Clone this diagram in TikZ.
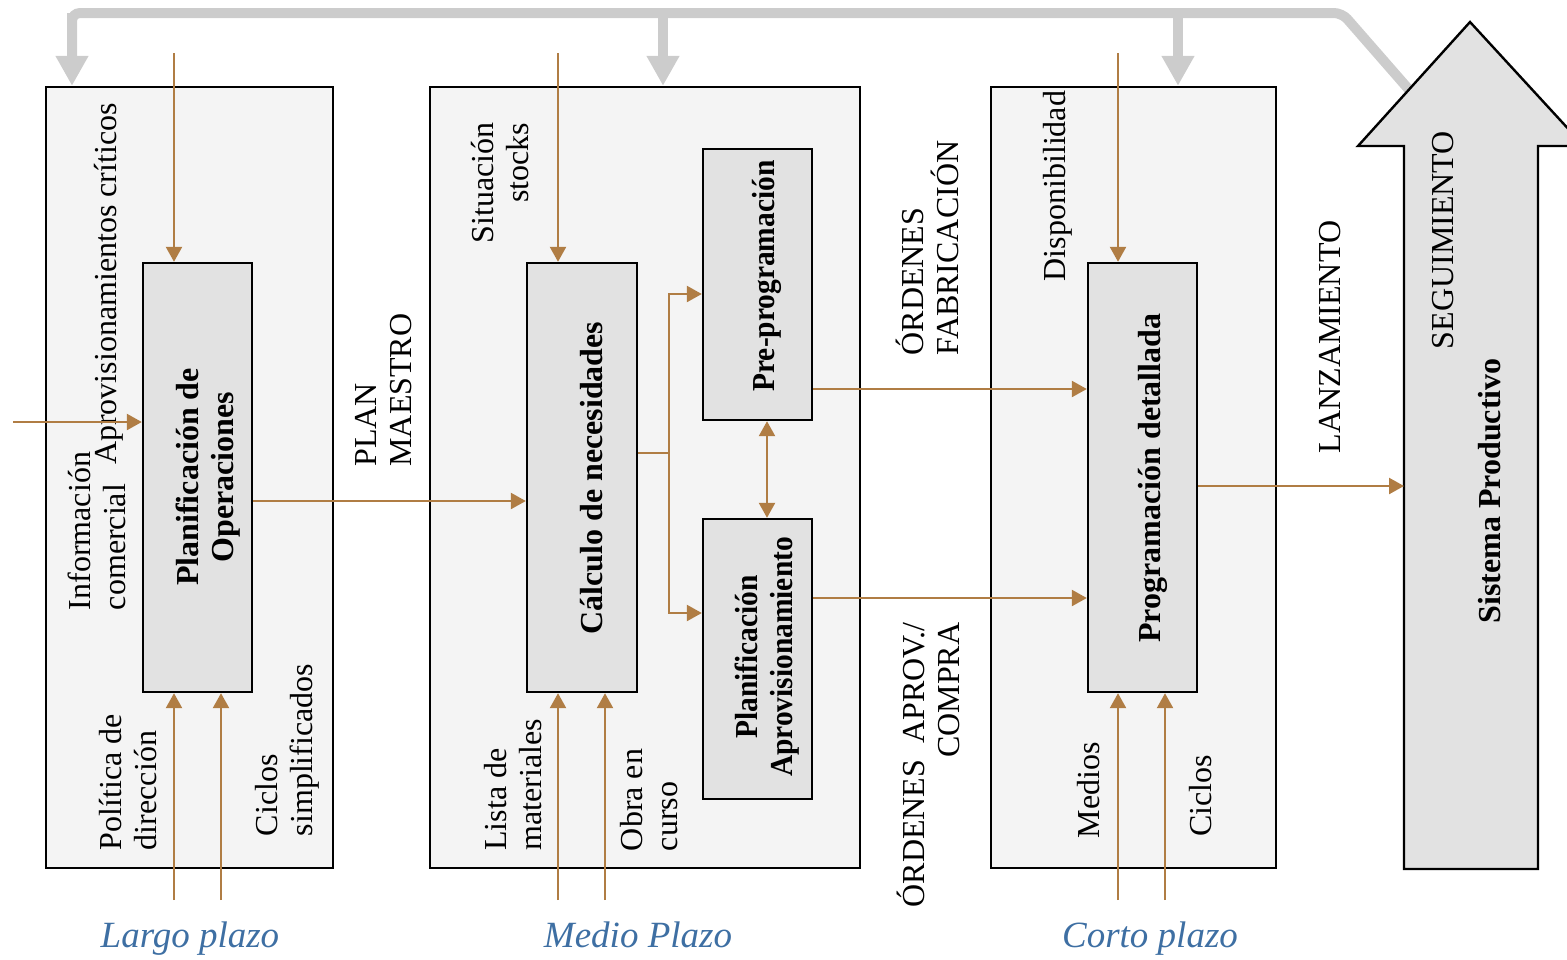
\documentclass[tikz,border=0pt]{standalone}
\usepackage{fontspec}
\setmainfont{Liberation Serif}
\newfontfamily\condserif[FakeStretch=0.92]{Liberation Serif}
\usetikzlibrary{arrows.meta,fit}
\definecolor{brn}{HTML}{B07D44}
\definecolor{gry}{HTML}{CCCCCC}
\definecolor{outerfill}{HTML}{F4F4F4}
\definecolor{innerfill}{HTML}{E2E2E2}
\definecolor{blu}{HTML}{3E6FA3}
\tikzset{
  outerbox/.style={draw, line width=1.2pt, fill=outerfill, inner sep=0pt},
  innerbox/.style={draw, line width=1.2pt, fill=innerfill, inner sep=0pt},
  lbl/.style={rotate=90, inner sep=0pt, font=\fontsize{16}{17.5}\selectfont},
  blbl/.style={lbl, font=\fontsize{16}{17.5}\selectfont\bfseries},
  cblbl/.style={lbl, font=\condserif\fontsize{16}{17.5}\selectfont\bfseries},
  plazo/.style={inner sep=0pt, anchor=base, text=blu, font=\fontsize{18.5}{20}\selectfont\itshape},
  barrow/.style={draw=brn, line width=1.2pt, -{Triangle[width=8pt,length=7.5pt]}},
  bdarrow/.style={draw=brn, line width=1.2pt, {Triangle[width=8pt,length=7.5pt]}-{Triangle[width=8pt,length=7.5pt]}},
  garrow/.style={draw=gry, line width=5pt, -{Triangle[width=15.5pt,length=15pt]}},
}
\begin{document}
\begin{tikzpicture}[x=0.5pt,y=-0.5pt]
\useasboundingbox (0,0) rectangle (1567,959);
% outer boxes
\node[outerbox, fit={(46,87) (333,868)}] (L) {};
\node[outerbox, fit={(430,87) (860,868)}] (M) {};
\node[outerbox, fit={(991,87) (1276,868)}] (C) {};
% inner boxes
\node[innerbox, fit={(143,263) (252,692)}] (P1) {};
\node[innerbox, fit={(527,263) (637,692)}] (Calc) {};
\node[innerbox, fit={(703,149) (812,420)}] (Pre) {};
\node[innerbox, fit={(703,519) (812,799)}] (PlanA) {};
\node[innerbox, fit={(1088,263) (1197,692)}] (Prog) {};
% gray feedback line
\coordinate (g0) at (72,13);
\coordinate (g1) at (1342,13);
\coordinate (g2) at (1418,100);
\coordinate (gm) at (663,13);
\coordinate (gc) at (1178,13);
\draw[gry, line width=5pt, rounded corners=4pt] (g0 |- L.north) ++(0,-20) -- (g0) -- (g1) -- (g2);
\draw[garrow] (g0) -- (g0 |- L.north);
\draw[garrow] (gm) -- (gm |- M.north);
\draw[garrow] (gc) -- (gc |- C.north);
% big arrow
\draw[line width=1.2pt, fill=innerfill] (1404,869) -- (1404,146) -- (1358,146) -- (1470,22) -- (1584,146) -- (1538,146) -- (1538,869) -- cycle;
\coordinate (SP) at (1404,486);
% inner labels
\node[blbl, align=center] at (208,477) (tP1) {Planificación de\\Operaciones};
\node[blbl] at (592,478) (tCalc) {Cálculo de necesidades};
\node[cblbl] at (767,276) (tPre) {Pre-programación};
\node[cblbl, align=center] at (767,657) (tPlanA) {Planificación\\Aprovisionamiento};
\node[blbl] at (1153,478) (tProg) {Programación detallada};
\node[blbl] at (1490,491) (tSP) {Sistema Productivo};
% other labels
\node[lbl, align=left] at (97,531) (l1) {Información\\comercial};
\node[lbl] at (109,284) (l2) {Aprovisionamientos críticos};
\node[lbl, align=left] at (128,782) (l3) {Política de\\dirección};
\node[lbl, align=left] at (287,750) (l4) {Ciclos\\simplificados};
\node[lbl, align=left] at (384,390) (l5) {PLAN\\MAESTRO};
\node[lbl, align=right] at (500,183) (l6) {Situación\\stocks};
\node[lbl, align=left] at (513,785) (l7) {Lista de\\materiales};
\node[lbl, align=left] at (649,800) (l8) {Obra en\\curso};
\node[lbl, align=left] at (927,248) (l9) {ÓRDENES\\FABRICACIÓN};
\node[lbl, align=right] at (928,765) (l10) {ÓRDENES\ \ APROV./\\COMPRA};
\node[lbl] at (1058,186) (l11) {Disponibilidad};
\node[lbl] at (1089,790) (l12) {Medios};
\node[lbl] at (1201,796) (l13) {Ciclos};
\node[lbl] at (1330,337) (l14) {LANZAMIENTO};
\node[lbl] at (1443,240) (l15) {SEGUIMIENTO};
% plazo labels
\node[plazo] at (190,947) (pL) {Largo plazo};
\node[plazo] at (638,947) (pM) {Medio Plazo};
\node[plazo] at (1150,947) (pC) {Corto plazo};
% brown arrows: largo plazo
\coordinate (a1) at (174,53);
\coordinate (a0) at (13,422);
\coordinate (b1) at (174,900);
\coordinate (b2) at (221,900);
\draw[barrow] (a1) -- (a1 |- P1.north);
\draw[barrow] (a0) -- (a0 -| P1.west);
\draw[barrow] (b1) -- (b1 |- P1.south);
\draw[barrow] (b2) -- (b2 |- P1.south);
% plan maestro
\coordinate (pm) at (0,501);
\draw[barrow] (P1.east |- pm) -- (Calc.west |- pm);
% medio plazo
\coordinate (a2) at (558,53);
\coordinate (b3) at (558,900);
\coordinate (b4) at (605,900);
\draw[barrow] (a2) -- (a2 |- Calc.north);
\draw[barrow] (b3) -- (b3 |- Calc.south);
\draw[barrow] (b4) -- (b4 |- Calc.south);
\coordinate (br) at (669,453);
\coordinate (brt) at (669,294);
\coordinate (brb) at (669,613);
\draw[draw=brn, line width=1.2pt] (Calc.east |- br) -- (br);
\draw[barrow] (br) -- (brt) -- (brt -| Pre.west);
\draw[barrow] (br) -- (brb) -- (brb -| PlanA.west);
\coordinate (dd) at (767,0);
\draw[bdarrow] (dd |- Pre.south) -- (dd |- PlanA.north);
% to corto plazo
\coordinate (o1) at (0,389);
\coordinate (o2) at (0,598);
\draw[barrow] (Pre.east |- o1) -- (Prog.west |- o1);
\draw[barrow] (PlanA.east |- o2) -- (Prog.west |- o2);
\coordinate (a3) at (1118,53);
\coordinate (b5) at (1118,900);
\coordinate (b6) at (1165,900);
\draw[barrow] (a3) -- (a3 |- Prog.north);
\draw[barrow] (b5) -- (b5 |- Prog.south);
\draw[barrow] (b6) -- (b6 |- Prog.south);
\draw[barrow] (Prog.east |- SP) -- (SP);
\end{tikzpicture}
\end{document}
